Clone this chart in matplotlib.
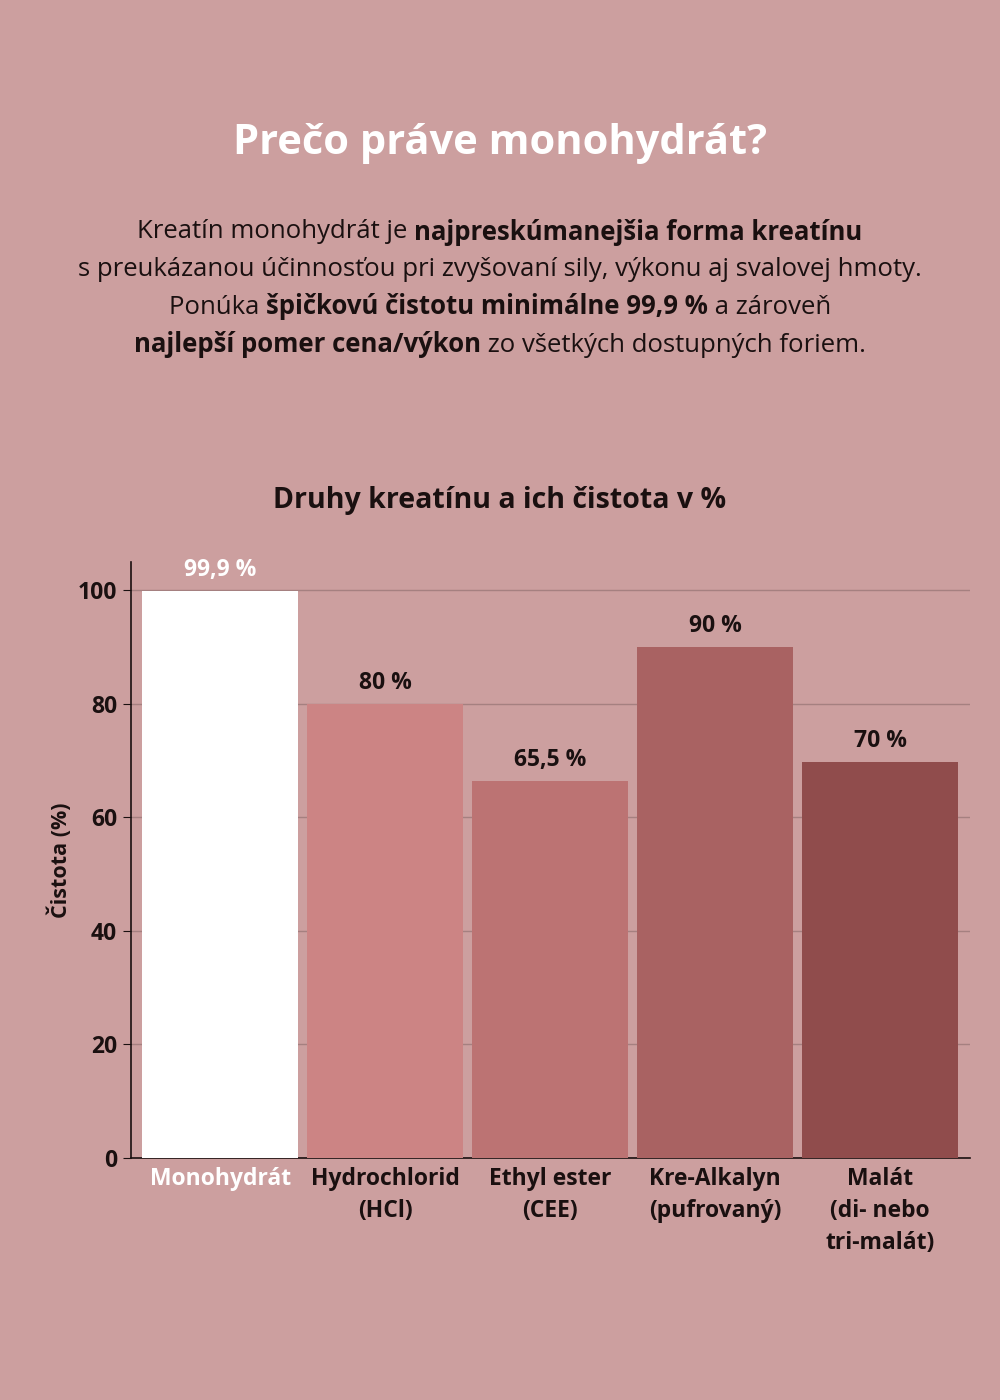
import matplotlib
matplotlib.use("Agg")
import matplotlib.pyplot as plt

categories = ["Monohydrát", "Hydrochlorid\n(HCl)", "Ethyl ester\n(CEE)", "Kre-Alkalyn\n(pufrovaný)", "Malát\n(di- nebo\ntri-malát)"]
values = [99.9, 79.9, 66.4, 90.0, 69.7]
value_labels = ["99,9 %", "80 %", "65,5 %", "90 %", "70 %"]
bar_colors = ["#ffffff", "#cc8484", "#bc7373", "#a96262", "#904c4c"]
yticks = [0, 20, 40, 60, 80, 100]

BG = "#cc9f9f"
DARK = "#1a1010"
FONT = "Open Sans"

fig = plt.figure(figsize=(10, 14), dpi=100, facecolor=BG)
ax = fig.add_axes([0.131, 1 - 1158/1400, 0.97 - 0.131, (1158 - 562)/1400])
ax.set_facecolor(BG)
x = list(range(len(categories)))
ax.bar(x, values, width=0.945, color=bar_colors, zorder=3)
ax.set_xlim(-0.54, 4.545)
ax.set_ylim(0, 105)
ax.set_yticks(yticks)
ax.set_yticklabels([str(t) for t in yticks], fontsize=16.5, fontweight="bold", family=FONT, color=DARK)
ax.yaxis.grid(True, color="#a58080", linewidth=1, zorder=0)
ax.set_xticks(x)
ax.set_xticklabels([])
for s in ["top", "right"]:
    ax.spines[s].set_visible(False)
for s in ["left", "bottom"]:
    ax.spines[s].set_color(DARK)
    ax.spines[s].set_linewidth(1.2)
ax.tick_params(axis="y", length=6, color=DARK, pad=4)
ax.tick_params(axis="x", length=0)
ax.set_ylabel("Čistota (%)", fontsize=15.5, fontweight="bold", family=FONT, color=DARK, labelpad=4)

for i, (v, lab) in enumerate(zip(values, value_labels)):
    ax.text(i, v + 1.6, lab, ha="center", va="bottom", fontsize=16.5, fontweight="bold",
            family=FONT, color="white" if i == 0 else DARK)
    ax.text(i, -1.6, categories[i], ha="center", va="top", fontsize=16.5, fontweight="bold",
            family=FONT, color="white" if i == 0 else DARK, linespacing=1.45)

fig.text(0.5, 1 - 143/1400, "Prečo práve monohydrát?", ha="center", va="center",
         fontsize=30, fontweight="bold", family=FONT, color="white")
fig.text(0.5, 1 - 500/1400, "Druhy kreatínu a ich čistota v %", ha="center", va="center",
         fontsize=20.5, fontweight="bold", family=FONT, color=DARK)

lines = [
    [("Kreatín monohydrát je ", False), ("najpreskúmanejšia forma kreatínu", True)],
    [("s preukázanou účinnosťou pri zvyšovaní sily, výkonu aj svalovej hmoty.", False)],
    [("Ponúka ", False), ("špičkovú čistotu minimálne 99,9 %", True), (" a zároveň", False)],
    [("najlepší pomer cena/výkon", True), (" zo všetkých dostupných foriem.", False)],
]
ys = [232, 270, 307, 345]
fig.canvas.draw()
r = fig.canvas.get_renderer()
for segs, yp in zip(lines, ys):
    objs = []
    for t, b in segs:
        o = fig.text(0, 1 - yp/1400, t, ha="left", va="center", fontsize=18.5,
                     fontweight="bold" if b else "normal", family=FONT, color=DARK)
        objs.append(o)
    widths = [o.get_window_extent(renderer=r).width for o in objs]
    total = sum(widths)
    xs = 500 - total/2
    for o, w in zip(objs, widths):
        o.set_x(xs/1000)
        xs += w

fig.savefig("out.png", dpi=100, facecolor=BG)
